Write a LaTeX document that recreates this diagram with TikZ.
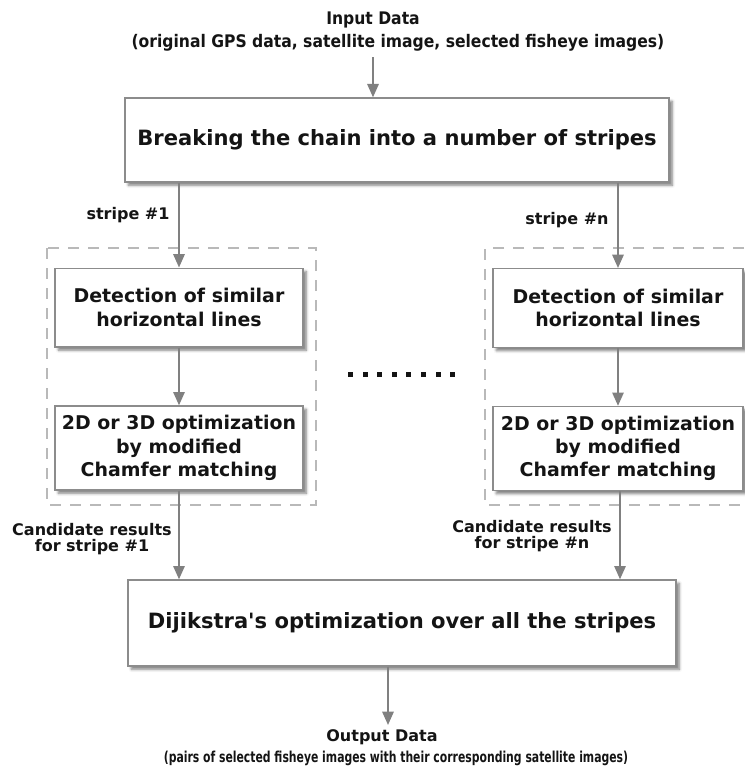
\documentclass[tikz,border=0pt]{standalone}
\usepackage{fontspec}
\setmainfont{DejaVu Sans}[Ligatures=TeXOff]
\newfontfamily\condfont{DejaVu Sans Condensed}
\newfontfamily\narrowfont[FakeStretch=0.8]{DejaVu Sans Condensed}
\usepackage{xcolor}
\definecolor{textcolor}{RGB}{20,20,20}
\definecolor{boxcolor}{RGB}{140,140,140}
\definecolor{arrowcolor}{RGB}{128,128,128}
\definecolor{dashcolor}{RGB}{185,185,185}
\usepackage{tikz}
\usetikzlibrary{arrows.meta,shadows.blur}

\begin{document}
\begin{tikzpicture}[x=0.75pt, y=-0.75pt,
  every node/.style={color=textcolor, align=center, inner sep=0pt},
  procbox/.style={draw=boxcolor, fill=white, line width=1pt,
    blur shadow={shadow xshift=2.5pt, shadow yshift=-2.5pt, shadow blur radius=2pt, shadow opacity=50}},
  widebox/.style={procbox, font=\fontsize{15.8}{19}\selectfont\bfseries},
  stepbox/.style={procbox, minimum width=186pt, font=\fontsize{14.2}{17.5}\selectfont\bfseries},
  tag/.style={font=\fontsize{12}{12.5}\selectfont\bfseries},
  headline/.style={font=\condfont\fontsize{13}{15}\selectfont\bfseries},
  flow/.style={draw=arrowcolor, line width=1.5pt, -{Triangle[width=8.5pt,length=10pt]}},
  dashbox/.style={draw=dashcolor, line width=0.8pt, dash pattern=on 8pt off 7pt}]
  \useasboundingbox (0,0) rectangle (744,767);

  % input
  \node[headline] (input) at (373,20) {Input Data};
  \node[headline] (inputsrc) at (398,43) {(original GPS data, satellite image, selected fisheye images)};
  \node[widebox, minimum width=408pt, minimum height=63pt] (chain) at (397,140) {Breaking the chain into a number of stripes};
  \draw[flow] ([yshift=-4pt]inputsrc.south -| input.center) -- (input.center |- chain.north);

  % stripe groups
  \draw[dashbox] (47,248) rectangle (316,505);
  \draw[dashbox] (744,248) -| (485,505) -- (744,505);

  \node[stepbox, minimum height=59pt] (detect1) at (179,307.5) {Detection of similar\\horizontal lines};
  \node[stepbox, minimum height=63pt] (optim1) at (179,448) {2D or 3D optimization\\by modified\\Chamfer matching};
  \node[stepbox, minimum width=187.5pt, minimum height=59pt] (detectn) at (618,308) {Detection of similar\\horizontal lines};
  \node[stepbox, minimum width=187.5pt, minimum height=63pt] (optimn) at (618,448.5) {2D or 3D optimization\\by modified\\Chamfer matching};

  \node[tag] (stripe1) at (128,215) {stripe \#1};
  \node[tag] (stripen) at (567,220) {stripe \#n};

  \draw[flow] (chain.south -| detect1.north) -- (detect1.north);
  \draw[flow] (chain.south -| detectn.north) -- (detectn.north);
  \draw[flow] (detect1) -- (optim1);
  \draw[flow] (detectn) -- (optimn);

  % dots between the groups
  \foreach \i in {0,...,7}
    \fill[textcolor] ({348+\i*14.6},371.5) rectangle ++(5,5);

  % merge
  \node[widebox, minimum width=411pt, minimum height=64.5pt] (dijkstra) at (402,623) {Dijikstra's optimization over all the stripes};
  \node[tag] (cand1) at (92,539) {Candidate results\\for stripe \#1};
  \node[tag] (candn) at (532,536) {Candidate results\\for stripe \#n};
  \draw[flow] (optim1.south) -- (optim1.south |- dijkstra.north);
  \draw[flow] ([xshift=1.5pt]optimn.south) -- ([xshift=1.5pt]optimn.south |- dijkstra.north);

  % output
  \coordinate (outtip) at (388,725);
  \node[tag] (output) at (382,737) {Output Data};
  \node[font=\narrowfont\fontsize{11.3}{13}\selectfont\bfseries] (outputpairs) at (396,758) {(pairs of selected fisheye images with their corresponding satellite images)};
  \draw[flow] (dijkstra.south -| outtip) -- (outtip);
\end{tikzpicture}
\end{document}
